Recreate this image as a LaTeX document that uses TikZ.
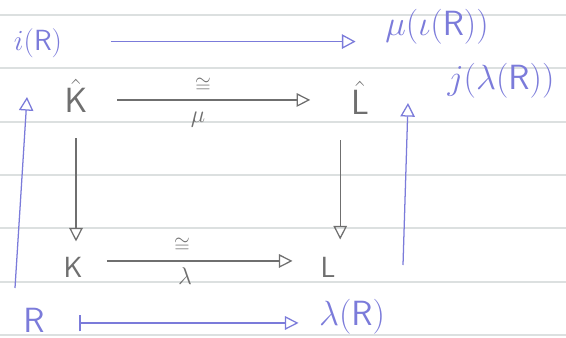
\documentclass[tikz,border=0pt]{standalone}
\usepackage{amsmath,amssymb}
\usepackage{xcolor}
\usepackage{tikz}
\usetikzlibrary{arrows.meta,calc}
\definecolor{inkblue}{HTML}{7B7BDA}
\definecolor{pencil}{HTML}{6F6F6F}
\definecolor{ruling}{HTML}{DCE0E0}
\tikzset{
  obj/.style={inner sep=1pt,anchor=base,text=pencil},
  elem/.style={inner sep=1pt,anchor=base,text=inkblue},
  lbl/.style={inner sep=0pt,text=pencil},
  pmap/.style={draw=pencil,line width=0.9pt,-{Triangle[open,length=3.4mm,width=3.4mm]}},
  emap/.style={draw=inkblue,line width=0.9pt,-{Triangle[open,length=3.4mm,width=3.6mm]}},
  mapsto/.style={draw=inkblue,line width=0.9pt,{Bar[width=4.2mm]}-{Triangle[open,length=3.4mm,width=3.4mm]}},
  paperline/.style={draw=ruling,line width=0.8pt}
}
\begin{document}
\begin{tikzpicture}
  \useasboundingbox (0,0) rectangle (14.15,8.425);
  % Ruled paper
  \foreach \y in {0.05,1.375,2.725,4.05,5.375,6.725,8.05}
    \draw[paperline] (0,\y) -- (14.15,\y);
  % Objects
  \node[obj,font=\Huge] (Khat) at (1.9,5.6) {$\hat{\mathsf{K}}$};
  \node[obj,font=\Huge] (Lhat) at (9.0,5.55) {$\hat{\mathsf{L}}$};
  \node[obj,font=\huge] (K) at (1.825,1.5) {$\mathsf{K}$};
  \node[obj,font=\huge] (L) at (8.2,1.5) {$\mathsf{L}$};
  % Elements
  \node[elem,font=\huge] (iR) at (0.95,7.15) {$i(\mathsf{R})$};
  \node[elem,font=\Huge] (muiR) at (10.925,7.525) {$\mu(\iota(\mathsf{R}))$};
  \node[elem,font=\Huge] (jlR) at (12.525,6.175) {$j(\lambda(\mathsf{R}))$};
  \node[elem,font=\Huge] (R) at (0.85,0.125) {$\mathsf{R}$};
  \node[elem,font=\Huge] (lR) at (8.8,0.3) {$\lambda(\mathsf{R})$};
  % Isomorphisms
  \draw[pmap,shorten <=7mm,shorten >=9.8mm] ([yshift=2.5mm]Khat.mid east) -- ([yshift=2.5mm]Khat.mid east -| Lhat.mid west);
  \node[lbl,font=\Large] (isoTop) at (5.075,6.3) {$\cong$};
  \node[lbl,font=\LARGE] (muTop) at (4.95,5.425) {$\mu$};
  \draw[pmap,shorten <=5.7mm,shorten >=6.6mm] ([yshift=3.25mm]K.mid east) -- ([yshift=3.25mm]K.mid east -| L.mid west);
  \node[lbl,font=\Large] (isoBot) at (4.55,2.3) {$\cong$};
  \node[lbl,font=\LARGE] (laBot) at (4.625,1.525) {$\lambda$};
  % Completion maps
  \draw[pmap,shorten <=5.9mm,shorten >=3.4mm] (Khat.south) -- (Khat.south |- K.north);
  \draw[pmap,shorten <=5.9mm,shorten >=3.9mm] ([xshift=-2.3mm]Lhat.south west) -- ([xshift=-2.3mm]Lhat.south west |- L.north);
  % Elements mapped
  \draw[emap,shorten <=11.8mm,shorten >=7mm] ([yshift=1.6mm]iR.mid east) -- ([yshift=1.6mm]iR.mid east -| muiR.mid west);
  \draw[mapsto,shorten <=8.3mm,shorten >=4.7mm] ([yshift=1.5mm]R.mid east) -- ([yshift=1.5mm]R.mid east -| lR.mid west);
  % Inclusions
  \coordinate (lowL) at (0.375,1.225);
  \coordinate (upL) at (0.675,6.0);
  \coordinate (lowR) at (10.075,1.8);
  \coordinate (upR) at (10.2,5.85);
  \draw[emap] (lowL) -- (upL);
  \draw[emap] (lowR) -- (upR);
\end{tikzpicture}
\end{document}
